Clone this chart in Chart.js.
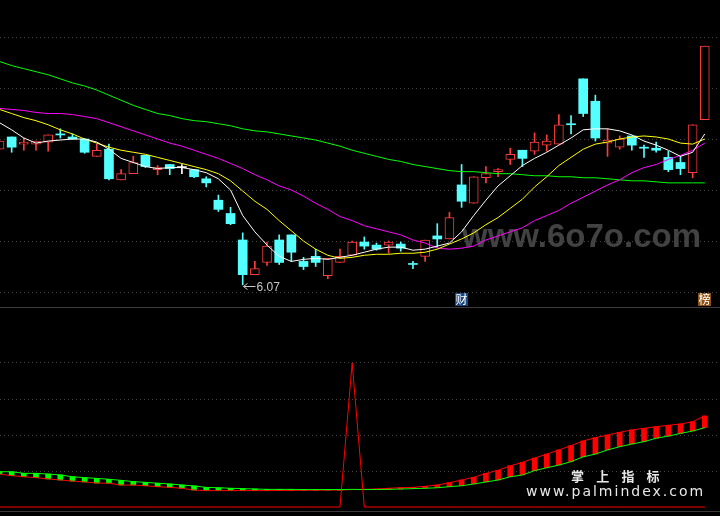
<!DOCTYPE html>
<html>
<head>
<meta charset="utf-8">
<script src="https://cdn.jsdelivr.net/npm/chart.js@4.4.0/dist/chart.umd.min.js"></script>
<style>
  html, body { margin: 0; padding: 0; background: #000; }
  #wrap { position: relative; width: 720px; height: 516px; background: #000; overflow: hidden; }
  #top { position: absolute; left: 0; top: 0; }
  #bottom { position: absolute; left: 0; top: 307px; }
  .sep { position: absolute; left: 0; width: 720px; height: 1px; background: #3c3c3c; }
</style>
</head>
<body>
<div id="wrap">
  <canvas id="top" width="720" height="307"></canvas>
  <canvas id="bottom" width="720" height="204"></canvas>
  <div class="sep" style="top:307px"></div>
  <div class="sep" style="top:511px"></div>
</div>
<script>
// daily candles
const openP  = [7.40,7.52,7.45,7.45,7.47,7.55,7.52,7.50,7.33,7.40,
                7.10,7.16,7.34,7.20,7.25,7.22,7.20,7.11,6.90,6.77,
                6.51,6.17,6.29,6.51,6.56,6.30,6.35,6.16,6.29,6.36,
                6.49,6.46,6.46,6.47,6.28,6.35,6.55,6.52,7.05,6.87,
                7.12,7.18,7.30,7.39,7.38,7.44,7.45,7.65,8.09,7.87,
                7.46,7.42,7.53,7.42,7.41,7.32,7.27,7.17,7.69];
const closeP = [7.48,7.42,7.47,7.48,7.54,7.54,7.50,7.37,7.39,7.11,
                7.16,7.27,7.23,7.22,7.21,7.22,7.13,7.07,6.81,6.67,
                6.17,6.23,6.45,6.29,6.39,6.25,6.29,6.33,6.35,6.49,
                6.45,6.42,6.49,6.43,6.27,6.51,6.52,6.73,6.89,7.13,
                7.16,7.20,7.35,7.31,7.47,7.48,7.64,7.64,7.75,7.51,
                7.49,7.50,7.44,7.41,7.39,7.20,7.21,7.64,8.41];
const highP  = [7.48,7.52,7.51,7.48,7.54,7.60,7.55,7.50,7.45,7.45,
                7.20,7.33,7.34,7.24,7.25,7.25,7.20,7.13,6.95,6.83,
                6.58,6.30,6.49,6.56,6.56,6.34,6.42,6.33,6.42,6.50,
                6.54,6.48,6.50,6.49,6.30,6.51,6.67,6.78,7.25,7.13,
                7.23,7.21,7.41,7.39,7.56,7.54,7.74,7.73,8.09,7.93,
                7.60,7.53,7.53,7.44,7.47,7.38,7.33,7.64,8.41];
const lowP   = [7.40,7.37,7.39,7.39,7.38,7.51,7.50,7.36,7.33,7.10,
                7.10,7.16,7.22,7.15,7.15,7.16,7.12,7.03,6.79,6.66,
                6.07,6.17,6.26,6.27,6.30,6.22,6.25,6.13,6.29,6.36,
                6.42,6.41,6.38,6.40,6.23,6.30,6.44,6.52,6.83,6.87,
                7.07,7.13,7.25,7.23,7.35,7.38,7.45,7.55,7.72,7.48,
                7.33,7.40,7.39,7.32,7.37,7.18,7.15,7.12,7.69];

// moving average lines
const ma5  = [7.66,7.59,7.51,7.46,7.48,7.49,7.50,7.50,7.47,7.40,
              7.31,7.27,7.23,7.21,7.22,7.22,7.20,7.17,7.11,7.00,
              6.75,6.59,6.46,6.35,6.30,6.32,6.33,6.32,6.34,6.36,
              6.39,6.42,6.44,6.44,6.41,6.42,6.45,6.48,6.59,6.75,
              6.90,7.04,7.14,7.24,7.31,7.37,7.44,7.51,7.59,7.60,
              7.60,7.58,7.54,7.48,7.44,7.39,7.33,7.37,7.55];
const ma10 = [7.79,7.75,7.71,7.68,7.64,7.59,7.55,7.50,7.46,7.42,
              7.39,7.37,7.35,7.32,7.29,7.26,7.23,7.20,7.16,7.09,
              6.99,6.89,6.81,6.70,6.60,6.50,6.42,6.36,6.33,6.34,
              6.36,6.37,6.37,6.38,6.38,6.39,6.42,6.47,6.52,6.58,
              6.66,6.73,6.82,6.91,7.03,7.13,7.24,7.32,7.40,7.45,
              7.47,7.50,7.52,7.53,7.52,7.50,7.46,7.45,7.50];
const ma30 = [7.80,7.79,7.78,7.76,7.75,7.75,7.74,7.72,7.70,7.66,
              7.62,7.58,7.54,7.50,7.46,7.43,7.39,7.35,7.31,7.26,
              7.21,7.15,7.10,7.04,7.00,6.94,6.87,6.81,6.74,6.70,
              6.65,6.62,6.59,6.56,6.51,6.48,6.43,6.42,6.43,6.45,
              6.51,6.55,6.59,6.63,6.70,6.75,6.80,6.87,6.93,6.99,
              7.05,7.10,7.17,7.22,7.25,7.30,7.34,7.39,7.46];
const ma60 = [8.26,8.22,8.19,8.16,8.13,8.09,8.05,8.02,7.98,7.93,
              7.88,7.83,7.79,7.75,7.73,7.70,7.68,7.67,7.65,7.63,
              7.60,7.58,7.57,7.55,7.53,7.51,7.49,7.46,7.43,7.39,
              7.36,7.33,7.30,7.28,7.25,7.23,7.21,7.19,7.18,7.18,
              7.17,7.16,7.16,7.15,7.14,7.14,7.13,7.13,7.12,7.12,
              7.11,7.10,7.09,7.09,7.08,7.07,7.07,7.07,7.07];
const priceTicks = [6.0, 6.5, 7.0, 7.5, 8.0, 8.5];

// lower indicator
const lineA = [18.3,17.4,16.8,16.3,15.6,15.0,14.4,13.9,13.3,13.2,
               12.2,12.2,11.8,11.3,10.9,10.4,9.4,9.1,9.1,9.1,
               9.1,9.1,9.1,9.2,9.2,9.3,9.3,9.4,9.4,9.7,
               9.8,10.0,10.4,10.7,10.9,11.5,12.2,13.5,15.0,16.5,
               18.7,20.4,22.9,24.8,27.2,29.4,31.7,34.1,36.7,38.5,
               40.0,41.5,42.8,43.7,44.6,45.4,46.1,47.4,50.6];
const lineB = [19.6,19.6,18.7,18.7,18.3,17.8,16.8,16.3,15.9,15.4,
               14.8,14.1,13.7,13.2,12.8,12.2,11.7,10.9,10.7,10.4,
               10.2,10.0,9.8,9.8,9.8,9.7,9.7,9.7,9.7,9.8,
               9.7,9.7,9.8,10.0,10.2,10.4,10.7,11.3,11.8,12.8,
               13.9,15.0,16.8,17.8,20.2,21.8,23.3,25.2,27.9,29.4,
               31.7,33.5,35.0,36.3,38.2,39.4,40.9,42.2,44.1];
const spike = [0,0,0,0,0,0,0,0,0,0,
               0,0,0,0,0,0,0,0,0,0,
               0,0,0,0,0,0,0,0,0,80,
               0,0,0,0,0,0,0,0,0,0,
               0,0,0,0,0,0,0,0,0,0,
               0,0,0,0,0,0,0,0,0];
const lowerTicks = [20, 40, 60, 80];

const badgeIdx = [38, 58];
const badgeText = ['财', '榜'];
const watermark = 'www.6o7o.com';
const brandTitle = '掌上指标';
const brandUrl = 'www.palmindex.com';

const upColor = '#ff3c3c', downColor = '#54ffff', flatColor = '#ffffff';
const candleColor = closeP.map((c, i) => c > openP[i] ? upColor : (c < openP[i] ? downColor : flatColor));
const xy = arr => arr.map((v, i) => ({ x: i, y: v }));

const xAxis = { type: 'linear', min: 0.041, max: 59.25, offset: false, display: false };
const gridStyle = { color: '#444444', lineWidth: 1, drawTicks: false };

const topDecor = {
  id: 'topDecor',
  beforeDatasetsDraw(chart) {
    const ctx = chart.ctx;
    ctx.save();
    ctx.font = 'bold 33px "Liberation Sans", Arial, sans-serif';
    ctx.fillStyle = '#424242';
    ctx.fillText(watermark, 462, 247);
    ctx.restore();
  },
  afterDatasetsDraw(chart) {
    const { ctx, scales: { x, y } } = chart;
    const lowVal = Math.min(...lowP);
    const li = lowP.indexOf(lowVal);
    const px = Math.round(x.getPixelForValue(li)) + 0.5;
    const py = Math.round(y.getPixelForValue(lowVal)) + 1.5;
    ctx.save();
    ctx.strokeStyle = '#c8c8c8';
    ctx.lineWidth = 1;
    ctx.beginPath();
    ctx.moveTo(px, py); ctx.lineTo(px + 12, py);
    ctx.moveTo(px + 4, py - 3); ctx.lineTo(px, py); ctx.lineTo(px + 4, py + 3);
    ctx.stroke();
    ctx.fillStyle = '#c8c8c8';
    ctx.font = '12px "Liberation Sans", Arial, sans-serif';
    ctx.textBaseline = 'alphabetic';
    ctx.fillText(lowVal.toFixed(2), px + 13, py + 4.5);

    const colors = ['#1b4680', '#8c5214'];
    badgeIdx.forEach((bi, k) => {
      const cx = x.getPixelForValue(bi);
      const left = Math.round(cx - 6.5);
      ctx.fillStyle = colors[k];
      ctx.fillRect(left, 293, 13, 13);
      ctx.fillStyle = '#ffffff';
      ctx.font = '12px "Noto Sans CJK SC", sans-serif';
      ctx.textAlign = 'center';
      ctx.textBaseline = 'middle';
      ctx.fillText(badgeText[k], left + 6.5, 299.5);
    });
    ctx.restore();
  }
};

new Chart(document.getElementById('top'), {
  type: 'bar',
  data: {
    datasets: [
      { type: 'line', data: xy(ma5),  borderColor: '#ffffff', borderWidth: 1, pointRadius: 0, tension: 0, order: 0 },
      { type: 'line', data: xy(ma10), borderColor: '#ffff00', borderWidth: 1, pointRadius: 0, tension: 0, order: 0 },
      { type: 'line', data: xy(ma30), borderColor: '#ff00ff', borderWidth: 1, pointRadius: 0, tension: 0, order: 0 },
      { type: 'line', data: xy(ma60), borderColor: '#00ff00', borderWidth: 1, pointRadius: 0, tension: 0, order: 0 },
      {
        type: 'bar',
        data: openP.map((o, i) => ({ x: i, y: [o, closeP[i]] })),
        backgroundColor: closeP.map((c, i) => c > openP[i] ? '#000000' : candleColor[i]),
        borderColor: candleColor,
        borderWidth: closeP.map((c, i) => c > openP[i] ? 1 : 0),
        borderSkipped: false,
        barThickness: 9,
        minBarLength: 1,
        grouped: false,
        order: 1
      },
      {
        type: 'bar',
        data: lowP.map((l, i) => ({ x: i, y: [l, highP[i]] })),
        backgroundColor: candleColor,
        barThickness: 1,
        grouped: false,
        order: 2
      }
    ]
  },
  options: {
    responsive: false,
    animation: false,
    events: [],
    layout: { padding: 0, autoPadding: false },
    plugins: { legend: { display: false }, tooltip: { enabled: false } },
    scales: {
      x: xAxis,
      y: {
        min: 5.853, max: 8.863,
        afterBuildTicks: s => { s.ticks = priceTicks.map(v => ({ value: v })); },
        ticks: { display: false },
        grid: gridStyle,
        border: { display: false, dash: [1, 3] }
      }
    }
  },
  plugins: [topDecor]
});

const brand = {
  id: 'brand',
  afterDraw(chart) {
    const ctx = chart.ctx;
    const top = 307;
    ctx.save();
    ctx.fillStyle = '#e8e8e8';
    ctx.font = 'bold 13px "Noto Sans CJK SC", sans-serif';
    ctx.textBaseline = 'middle';
    brandTitle.split('').forEach((ch, k) => ctx.fillText(ch, 571 + 25.2 * k, 476.5 - top));
    ctx.font = '14px "DejaVu Sans", sans-serif';
    ctx.letterSpacing = '2px';
    ctx.textBaseline = 'alphabetic';
    ctx.fillText(brandUrl, 526, 496 - top);
    ctx.restore();
  }
};

new Chart(document.getElementById('bottom'), {
  type: 'bar',
  data: {
    datasets: [
      { type: 'line', data: xy(spike), borderColor: '#ff0000', borderWidth: 1, pointRadius: 0, tension: 0, order: 0 },
      { type: 'line', data: xy(lineB), borderColor: '#00ff00', borderWidth: 1, pointRadius: 0, tension: 0, order: 1 },
      { type: 'line', data: xy(lineA), borderColor: '#ff0000', borderWidth: 1, pointRadius: 0, tension: 0, order: 1 },
      {
        type: 'bar',
        data: lineA.map((a, i) => ({ x: i, y: [a, lineB[i]] })),
        backgroundColor: lineA.map((a, i) => a >= lineB[i] ? '#ff0000' : '#00ff00'),
        barThickness: 5,
        grouped: false,
        order: 2
      }
    ]
  },
  options: {
    responsive: false,
    animation: false,
    events: [],
    layout: { padding: 0, autoPadding: false },
    plugins: { legend: { display: false }, tooltip: { enabled: false } },
    scales: {
      x: xAxis,
      y: {
        min: -2.22, max: 111.11,
        afterBuildTicks: s => { s.ticks = lowerTicks.map(v => ({ value: v })); },
        ticks: { display: false },
        grid: gridStyle,
        border: { display: false, dash: [1, 3] }
      }
    }
  },
  plugins: [brand]
});
</script>
</body>
</html>
